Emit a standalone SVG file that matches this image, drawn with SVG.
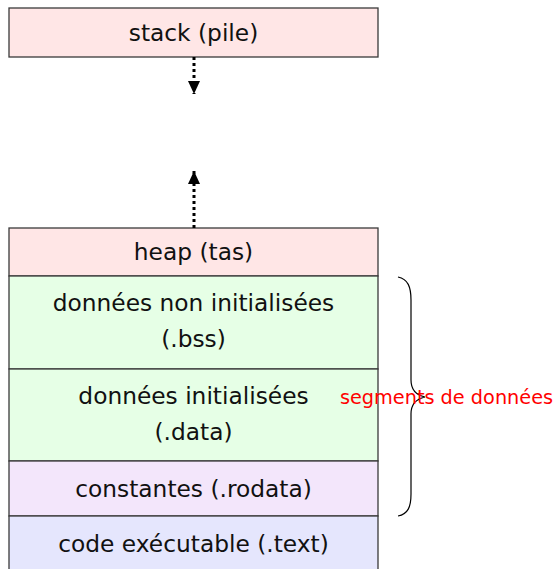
<svg xmlns="http://www.w3.org/2000/svg" width="559" height="569" viewBox="0 0 559 569">
<defs>
<style>
.box{stroke:#3a3a3a;stroke-width:1.3}
.lbl{font-family:"DejaVu Sans",sans-serif;font-size:23.3px;fill:#111;text-anchor:middle}
.conn{stroke:#000;stroke-width:3;stroke-dasharray:3 3;fill:none}
.brace{stroke:#000;stroke-width:1.2;fill:none}
</style>
<marker id="ah" viewBox="0 0 13 12" refX="13" refY="6" markerWidth="13" markerHeight="12" markerUnits="userSpaceOnUse" orient="auto">
<path d="M0,0 L13,6 L0,12 z" fill="#000"/>
</marker>
</defs>
<rect width="559" height="569" fill="#fff"/>
<g id="stack"><rect class="box" x="9" y="8" width="369" height="49" fill="#ffe6e6"/><text class="lbl" x="193.5" y="41">stack (pile)</text></g>
<g id="heap"><rect class="box" x="9" y="228" width="369" height="48" fill="#ffe6e6"/><text class="lbl" x="193.5" y="260">heap (tas)</text></g>
<g id="bss"><rect class="box" x="9" y="276" width="369" height="93" fill="#e6ffe6"/><text class="lbl" x="193.5" y="311">données non initialisées</text><text class="lbl" x="193.5" y="347">(.bss)</text></g>
<g id="data"><rect class="box" x="9" y="369" width="369" height="92" fill="#e6ffe6"/><text class="lbl" x="193.5" y="404">données initialisées</text><text class="lbl" x="193.5" y="440">(.data)</text></g>
<g id="rodata"><rect class="box" x="9" y="461" width="369" height="55" fill="#f3e6fb"/><text class="lbl" x="193.5" y="497">constantes (.rodata)</text></g>
<g id="text"><rect class="box" x="9" y="516" width="369" height="60" fill="#e5e6fd"/><text class="lbl" x="193.5" y="552">code exécutable (.text)</text></g>
<g id="connectors">
<line class="conn" x1="194" y1="57" x2="194" y2="94" marker-end="url(#ah)"/>
<line class="conn" x1="194" y1="228" x2="194" y2="171" marker-end="url(#ah)"/>
</g>
<g id="brace">
<path class="brace" d="M398,277 C408,279 411,287 411,300 L411,380 C411,390 416,395 425,397 C416,399 411,404 411,414 L411,494 C411,507 408,514 398,516"/>
<text x="446.5" y="404" font-family="DejaVu Sans,sans-serif" font-size="19.3px" fill="#ff0000" text-anchor="middle">segments de données</text>
</g>
</svg>
